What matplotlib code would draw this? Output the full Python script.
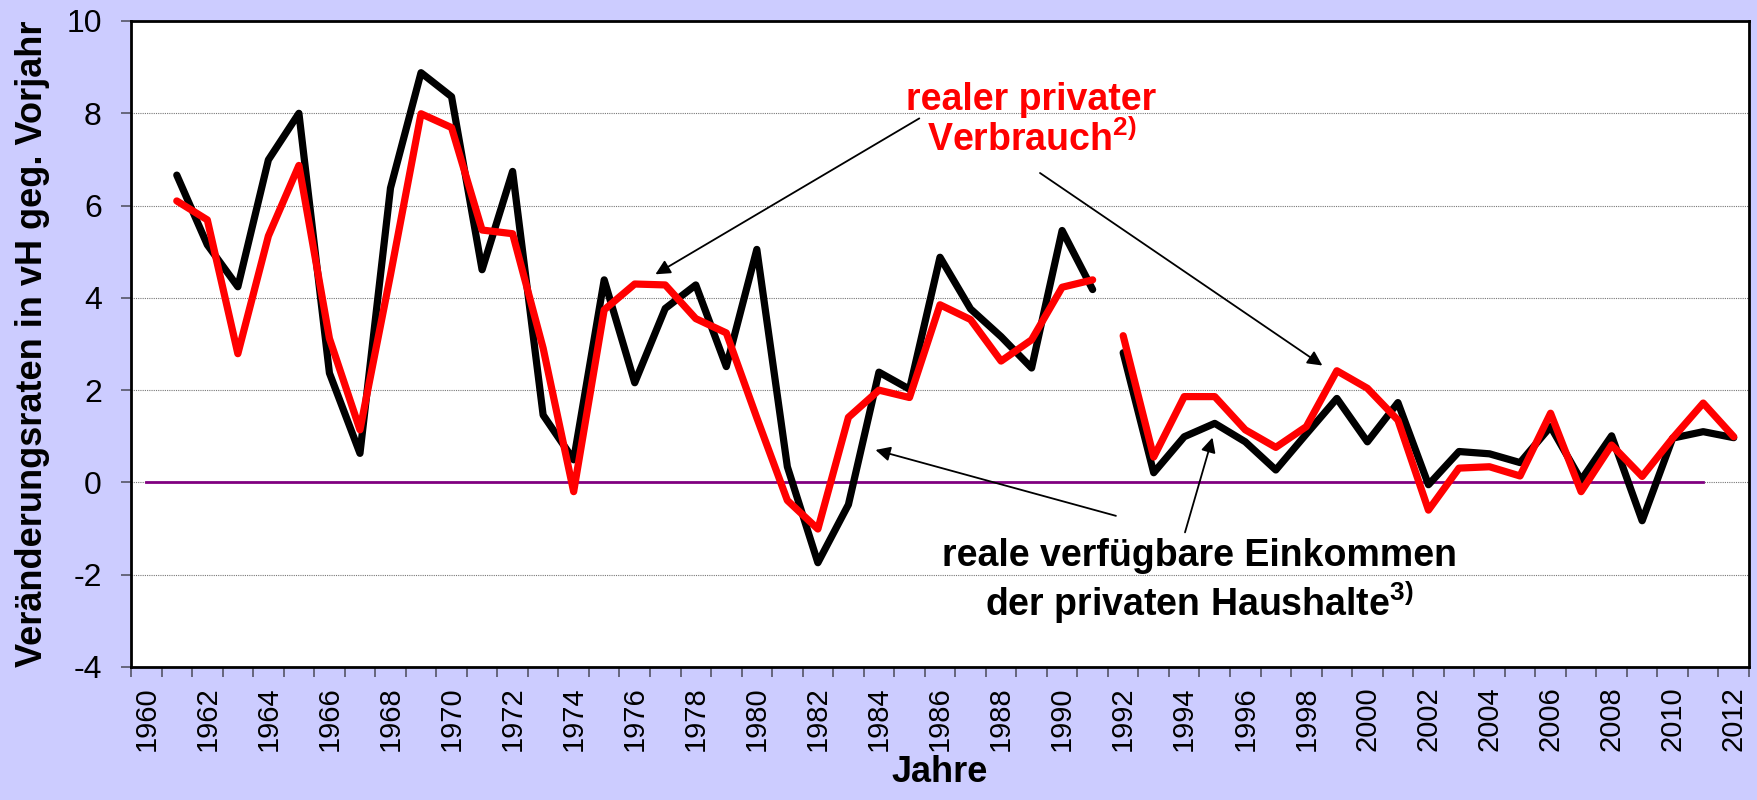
import matplotlib.pyplot as plt
import numpy as np

plt.rcParams['font.family'] = ['Liberation Sans', 'DejaVu Sans']
plt.rcParams['mathtext.fontset'] = 'custom'
plt.rcParams['mathtext.rm'] = 'Liberation Sans'
plt.rcParams['mathtext.bf'] = 'Liberation Sans:bold'

# West Germany 1961-1991, Germany 1992-2012
years_west = list(range(1961, 1992))
years_ger = list(range(1992, 2013))

einkommen_west = [6.66, 5.15, 4.24, 6.99, 8.0, 2.37, 0.63, 6.38, 8.88, 8.36,
                  4.61, 6.74, 1.46, 0.49, 4.39, 2.16, 3.77, 4.28, 2.51, 5.05,
                  0.34, -1.74, -0.48, 2.39, 2.02, 4.88, 3.76, 3.16, 2.48, 5.46,
                  4.18]
verbrauch_west = [6.10, 5.69, 2.79, 5.34, 6.87, 3.12, 1.14, 4.5, 7.99, 7.69,
                  5.47, 5.39, 2.91, -0.2, 3.74, 4.30, 4.28, 3.55, 3.24, 1.4,
                  -0.39, -1.01, 1.41, 2.0, 1.84, 3.85, 3.53, 2.63, 3.09, 4.23,
                  4.39]
einkommen_ger = [2.81, 0.21, 0.99, 1.28, 0.88, 0.27, 1.05, 1.82, 0.88, 1.73,
                 -0.05, 0.67, 0.62, 0.43, 1.21, 0.05, 1.01, -0.83, 0.96, 1.10,
                 0.97]
verbrauch_ger = [3.18, 0.55, 1.86, 1.86, 1.14, 0.76, 1.21, 2.42, 2.04, 1.35,
                 -0.60, 0.31, 0.34, 0.14, 1.50, -0.20, 0.81, 0.13, 0.96, 1.72,
                 0.99]

year_labels = list(range(1960, 2013, 2))
y_ticks = list(range(-4, 11, 2))

bg = '#CCCCFF'
fig = plt.figure(figsize=(17.58, 8), dpi=100, facecolor=bg)
ax = fig.add_axes([131 / 1758, 1 - 667 / 800, (1749 - 131) / 1758, (667 - 21) / 800])
ax.set_facecolor('white')

# zero line
ax.plot([1960, 2011], [0, 0], color='#800080', lw=2, zorder=2)

line_kw = dict(lw=5.2, solid_capstyle='round', solid_joinstyle='round')
ax.plot(years_west, einkommen_west, color='black', zorder=3, **line_kw)
ax.plot(years_ger, einkommen_ger, color='black', zorder=3, **line_kw)
ax.plot(years_west, verbrauch_west, color='#FF0000', zorder=4, **line_kw)
ax.plot(years_ger, verbrauch_ger, color='#FF0000', zorder=4, **line_kw)

ax.set_xlim(1959.5, 2012.5)
ax.set_ylim(-4, 10)
ax.set_yticks(y_ticks)
ax.set_yticklabels([str(v) for v in y_ticks], fontsize=23)
ax.set_xticks(year_labels)
ax.set_xticklabels([str(y) for y in year_labels], rotation=90, fontsize=21)
ax.set_xticks(np.arange(1959.5, 2013, 1), minor=True)
ax.tick_params(axis='x', which='major', length=0, pad=14)
ax.tick_params(axis='x', which='minor', length=7, width=1.2, color='#555566')
ax.tick_params(axis='y', which='major', length=7, width=1.2, color='#555566', pad=14)

ax.yaxis.grid(True, linestyle=(0, (1, 1)), color='#777777', lw=0.8, zorder=1)
for s in ax.spines.values():
    s.set_linewidth(2)
    s.set_color('black')

ax.set_ylabel('Veränderungsraten in vH geg. Vorjahr', fontsize=26,
              fontweight='bold', labelpad=12)
ax.set_xlabel('Jahre', fontsize=26, fontweight='bold', labelpad=3)

ax.text(1989.0, 7.85, 'realer privater\nVerbrauch$^{\\mathbf{2)}}$', color='#FF0000',
        fontsize=27, fontweight='bold', ha='center', va='center',
        linespacing=1.1, zorder=5)
ax.text(1994.5, -2.15, 'reale verfügbare Einkommen\nder privaten Haushalte$^{\\mathbf{3)}}$',
        color='black', fontsize=27, fontweight='bold', ha='center', va='center',
        linespacing=1.15, zorder=5)

arrow_kw = dict(arrowstyle='-|>', color='black', lw=1.3, mutation_scale=22)
ax.annotate('', xy=(1976.6, 4.48), xytext=(1985.4, 7.92), arrowprops=arrow_kw, zorder=6)
ax.annotate('', xy=(1998.6, 2.5), xytext=(1989.2, 6.74), arrowprops=arrow_kw, zorder=6)
ax.annotate('', xy=(1983.8, 0.72), xytext=(1991.85, -0.74), arrowprops=arrow_kw, zorder=6)
ax.annotate('', xy=(1994.95, 1.03), xytext=(1994.0, -1.14), arrowprops=arrow_kw, zorder=6)

fig.savefig('out.png', dpi=100, facecolor=bg)
